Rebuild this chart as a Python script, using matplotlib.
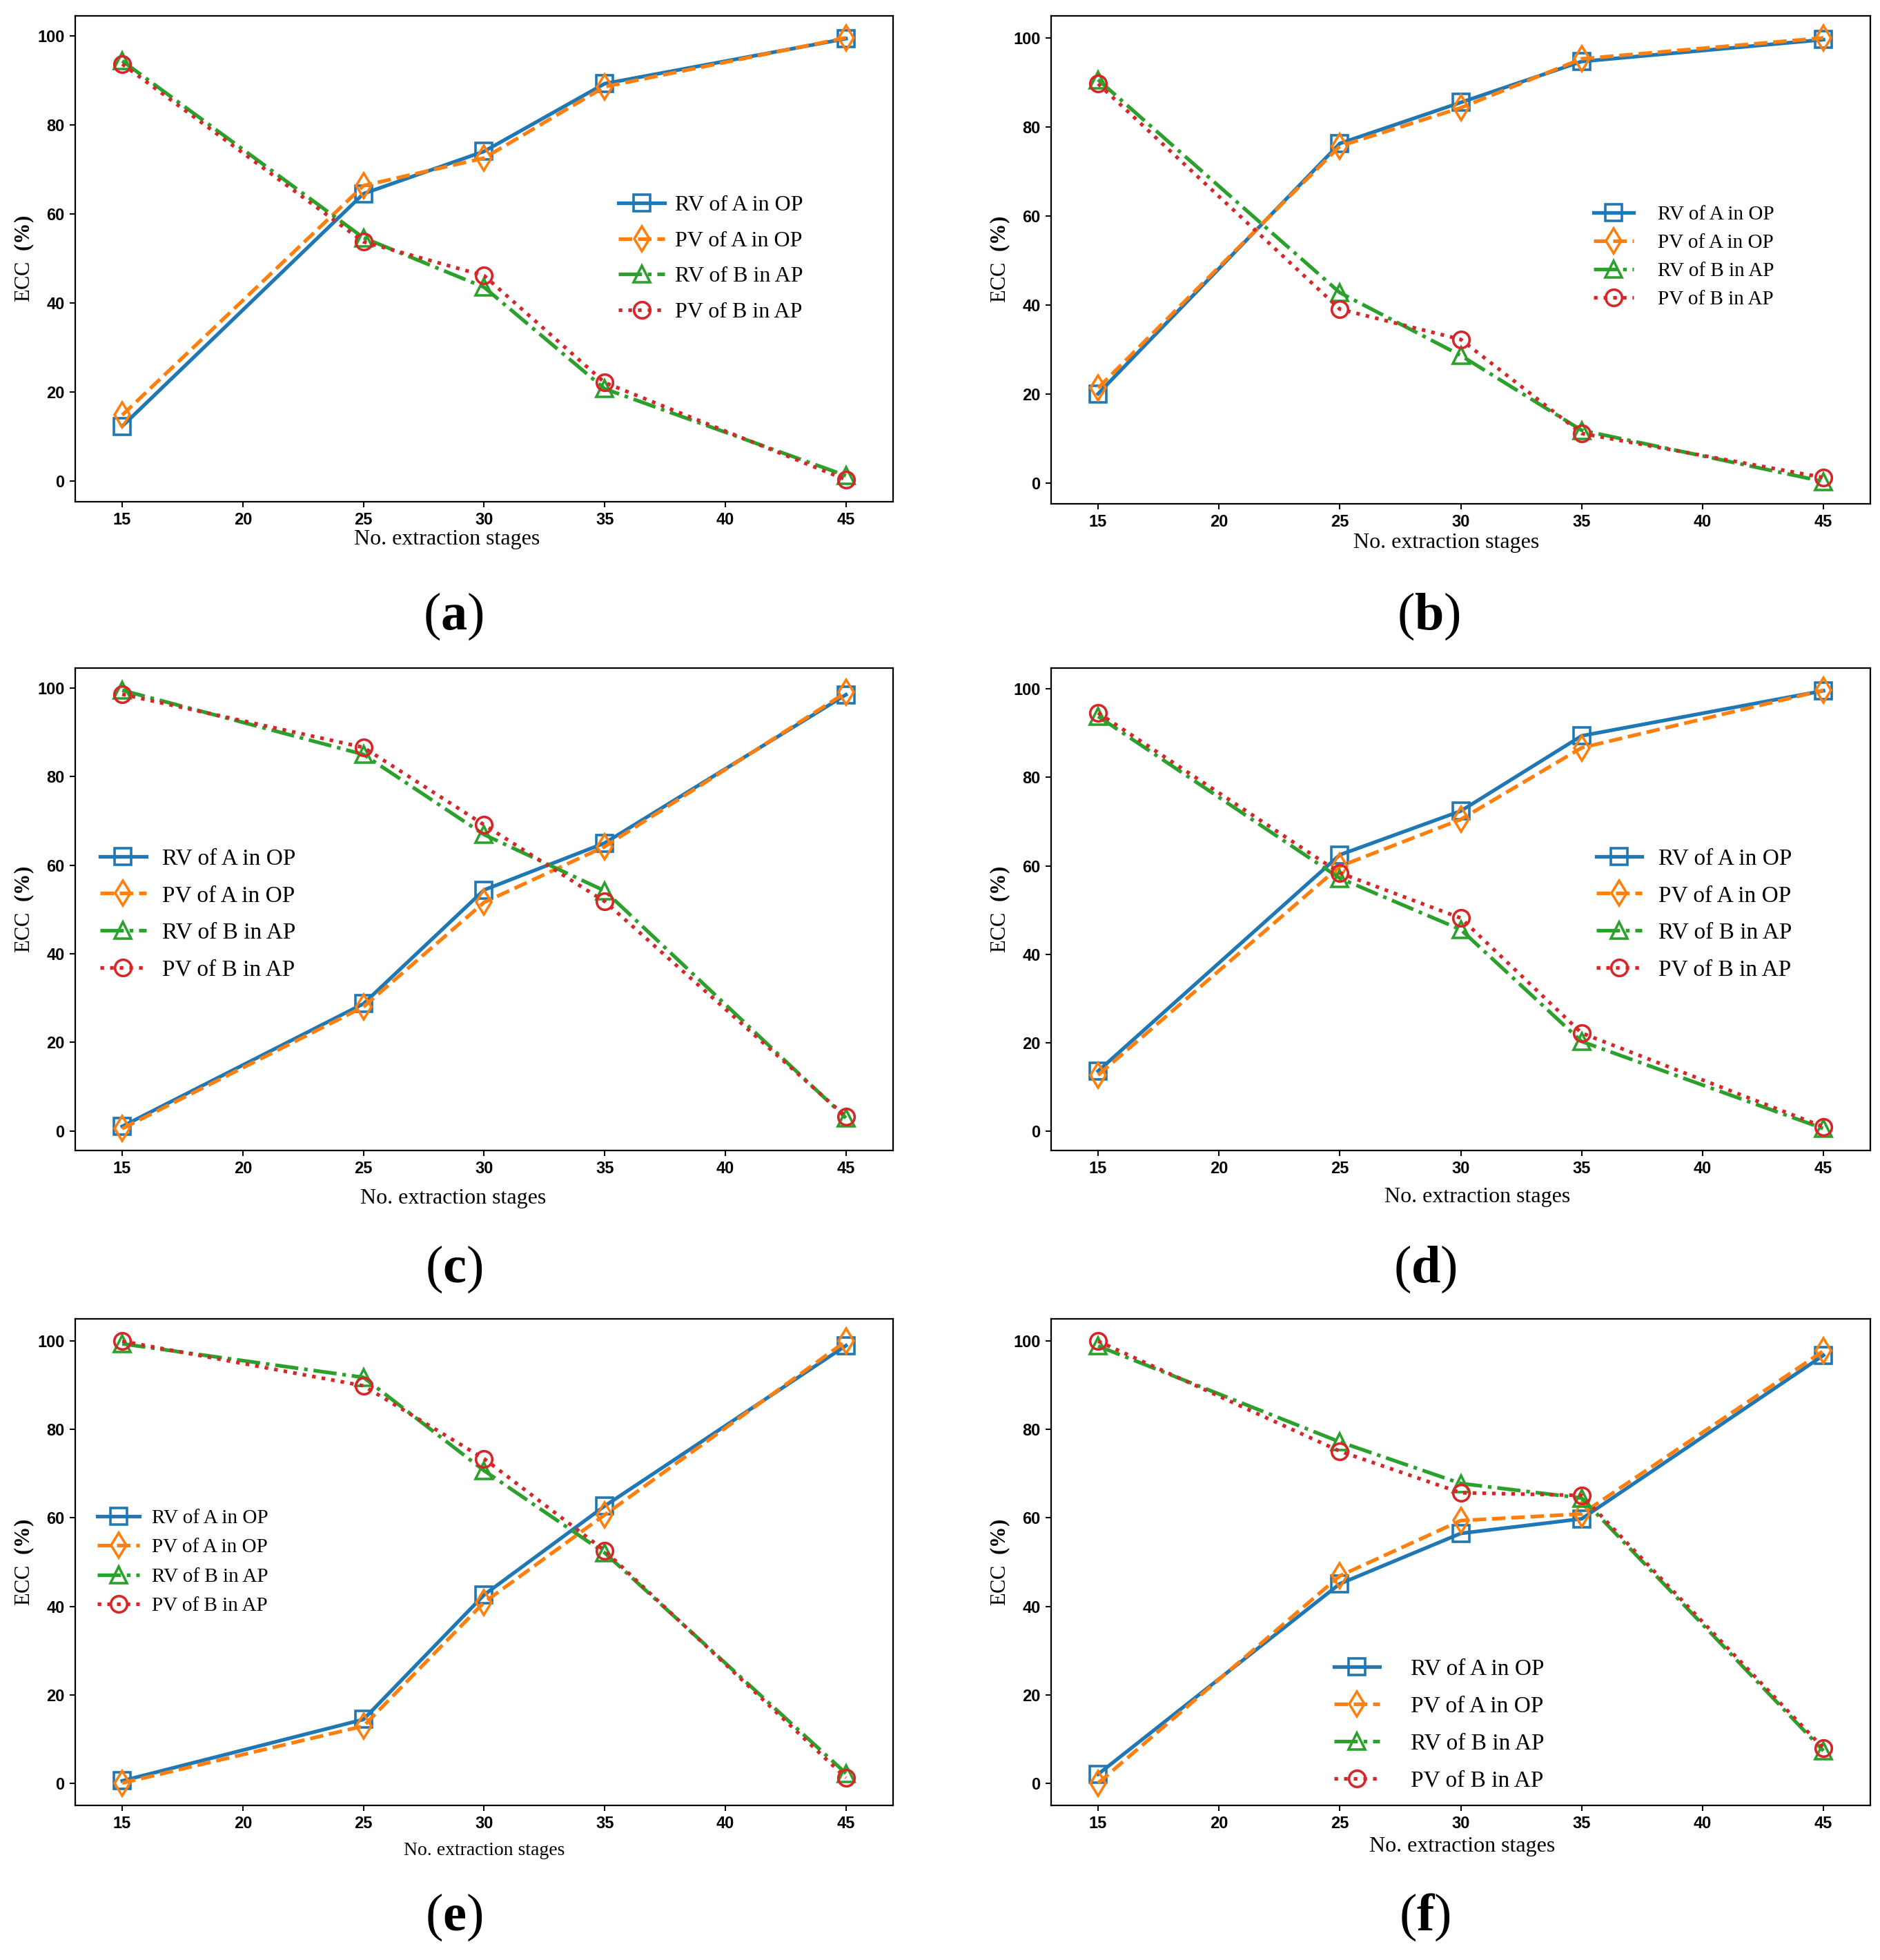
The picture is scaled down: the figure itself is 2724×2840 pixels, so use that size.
import matplotlib
matplotlib.use("Agg")
import matplotlib.pyplot as plt
from matplotlib import font_manager

stages = [15, 25, 30, 35, 45]
labels = ["RV of A in OP", "PV of A in OP", "RV of B in AP", "PV of B in AP"]

# (a)
a_rv_a = [12.3, 64.5, 74.0, 89.2, 99.3]
a_pv_a = [14.8, 66.3, 72.5, 88.5, 99.5]
a_rv_b = [94.3, 54.6, 43.5, 20.7, 1.2]
a_pv_b = [93.6, 53.7, 46.1, 22.1, 0.3]
# (b)
b_rv_a = [20.1, 76.3, 85.5, 94.7, 99.6]
b_pv_a = [21.4, 75.7, 84.3, 95.3, 100.0]
b_rv_b = [90.6, 42.8, 28.7, 11.9, 0.4]
b_pv_b = [89.7, 39.1, 32.3, 11.2, 1.3]
# (c)
c_rv_a = [1.0, 28.7, 54.4, 65.0, 98.5]
c_pv_a = [0.5, 28.0, 51.6, 64.2, 99.0]
c_rv_b = [99.5, 85.0, 66.9, 54.2, 2.9]
c_pv_b = [98.6, 86.6, 69.1, 51.8, 3.2]
# (d)
d_rv_a = [13.6, 62.5, 72.4, 89.4, 99.6]
d_pv_a = [12.7, 59.9, 70.5, 86.7, 99.7]
d_rv_b = [93.8, 57.2, 45.6, 20.3, 0.6]
d_pv_b = [94.6, 58.4, 48.2, 22.2, 1.0]
# (e)
e_rv_a = [0.5, 14.4, 42.6, 62.7, 99.0]
e_pv_a = [0.0, 12.9, 40.9, 60.7, 100.0]
e_rv_b = [99.4, 91.8, 70.7, 52.1, 2.2]
e_pv_b = [100.0, 89.9, 73.4, 52.6, 1.2]
# (f)
f_rv_a = [2.0, 45.1, 56.5, 59.8, 96.8]
f_pv_a = [0.0, 46.9, 59.4, 60.9, 97.8]
f_rv_b = [98.9, 77.2, 67.8, 64.5, 7.3]
f_pv_b = [100.0, 75.1, 65.7, 65.1, 7.9]

panels = [
    ("a", [a_rv_a, a_pv_a, a_rv_b, a_pv_b]),
    ("b", [b_rv_a, b_pv_a, b_rv_b, b_pv_b]),
    ("c", [c_rv_a, c_pv_a, c_rv_b, c_pv_b]),
    ("d", [d_rv_a, d_pv_a, d_rv_b, d_pv_b]),
    ("e", [e_rv_a, e_pv_a, e_rv_b, e_pv_b]),
    ("f", [f_rv_a, f_pv_a, f_rv_b, f_pv_b]),
]

names = {f.name for f in font_manager.fontManager.ttflist}
tickfont = "Liberation Sans Narrow" if "Liberation Sans Narrow" in names else "Liberation Sans"
serif = "Liberation Serif"

plt.rcParams["mathtext.fontset"] = "custom"
plt.rcParams["mathtext.rm"] = "Liberation Serif"
plt.rcParams["mathtext.bf"] = "Liberation Serif:bold"

colors = ["#1f77b4", "#ff7f0e", "#2ca02c", "#d62728"]
styles = ["-", "--", "-.", ":"]
markers = ["s", "d", "^", "o"]

fig = plt.figure(figsize=(27.24, 28.4), dpi=100)

# axes boxes [left, bottom, width, height] in figure fraction
boxes = [
    [0.040, 0.744, 0.435, 0.248],
    [0.559, 0.743, 0.436, 0.249],
    [0.040, 0.413, 0.435, 0.246],
    [0.559, 0.413, 0.436, 0.246],
    [0.040, 0.079, 0.435, 0.248],
    [0.559, 0.079, 0.436, 0.248],
]
leg_pos = [(0.64, 0.50), (0.64, 0.505), (0.005, 0.49), (0.64, 0.49), (0.005, 0.50), (0.32, 0.165)]
leg_fs = [23, 21, 24, 24, 21, 24]
leg_sp = [0.7, 0.5, 0.7, 0.7, 0.55, 0.7]
leg_hl = [2.1, 2.0, 2.0, 2.0, 2.1, 2.0]
leg_pad = [0.45, 1.2, 0.7, 0.7, 0.6, 0.6]
xlab_fs = [23, 23, 23, 23, 20, 23]
xlab_pos = [(0.455, -0.078), (0.482, -0.080), (0.462, -0.099), (0.52, -0.096), (0.50, -0.093), (0.502, -0.085)]
panel_pos = [(0.2413, 0.6854), (0.76, 0.6854), (0.2413, 0.3523), (0.758, 0.3523), (0.2413, 0.0217), (0.758, 0.0217)]

for i, (tag, series) in enumerate(panels):
    ax = fig.add_axes(boxes[i])
    for j, vals in enumerate(series):
        lab = labels[j]
        if i == 5:
            lab = "   " + lab
        ax.plot(stages, vals, linestyle=styles[j], color=colors[j], lw=3.8,
                marker=markers[j], markersize=17 if markers[j] != "d" else 18,
                markerfacecolor="none", markeredgewidth=2.6, label=lab)
    ax.set_xlim(13.05, 46.95)
    ax.set_xticks([15, 20, 25, 30, 35, 40, 45])
    ax.set_yticks([0, 20, 40, 60, 80, 100])
    ax.tick_params(axis="both", direction="out", length=6, width=1.5, labelsize=17, pad=5)
    for t in ax.get_xticklabels() + ax.get_yticklabels():
        t.set_fontfamily(tickfont)
        t.set_fontweight("bold")
    for s in ax.spines.values():
        s.set_linewidth(1.6)
    ax.set_xlabel("No. extraction stages", fontsize=xlab_fs[i], family=serif, va="center")
    ax.xaxis.set_label_coords(*xlab_pos[i])
    ax.set_ylabel(r"ECC  $\mathbf{(\%)}$", fontsize=22, family=serif, va="center")
    ax.yaxis.set_label_coords(-0.062, 0.5)
    ax.legend(loc="center left", bbox_to_anchor=leg_pos[i], frameon=False,
              prop={"family": serif, "size": leg_fs[i]}, labelspacing=leg_sp[i],
              handlelength=leg_hl[i], handletextpad=leg_pad[i])
    fig.text(panel_pos[i][0], panel_pos[i][1], r"($\mathbf{%s}$)" % tag, fontsize=55,
             family=serif, ha="center", va="center")

fig.savefig("out.png", dpi=100)
